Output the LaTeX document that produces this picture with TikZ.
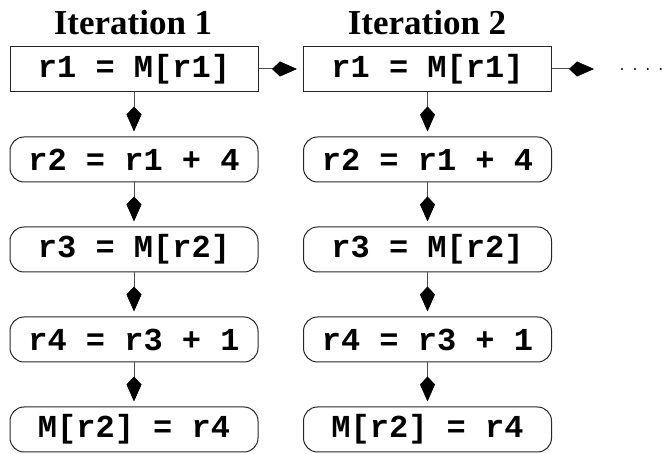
\documentclass[tikz,border=0pt]{standalone}
\usepackage{fontspec}
\setmainfont{Liberation Serif}
\setmonofont{Liberation Mono}
\usetikzlibrary{arrows.meta}
\begin{document}
\begin{tikzpicture}[x=1pt,y=-1pt,
  instr/.style={draw=black!85, line width=1pt, minimum width=248pt, minimum height=45pt, inner sep=0pt,
    font=\fontsize{32}{32}\selectfont\ttfamily\bfseries},
  roundinstr/.style={instr, rounded corners=14pt},
  title/.style={font=\fontsize{35}{35}\selectfont\bfseries, inner sep=0pt, anchor=base},
  flow/.style={draw=black!70, line width=1pt, -{Kite[length=25pt 0 0,width=15pt 0 0,inset=8pt 0 0,fill=black,color=black,line width=0.6pt]}},
  vflow/.style={flow, shorten >=5pt},
  hflow/.style={flow, shorten >=6pt}
]
\useasboundingbox (0,0) rectangle (662,454);
\node[title] (t1) at (133,35) {Iteration 1};
\node[title] (t2) at (427,35) {Iteration 2};

\node[instr] (a1) at (134,69) {r1 = M[r1]};
\node[roundinstr] (a2) at (134,159.5) {r2 = r1 + 4};
\node[roundinstr] (a3) at (134,249.5) {r3 = M[r2]};
\node[roundinstr] (a4) at (134,339.5) {r4 = r3 + 1};
\node[roundinstr] (a5) at (134,429.5) {M[r2] = r4};

\node[instr] (b1) at (427.5,69) {r1 = M[r1]};
\node[roundinstr] (b2) at (427.5,159.5) {r2 = r1 + 4};
\node[roundinstr] (b3) at (427.5,249.5) {r3 = M[r2]};
\node[roundinstr] (b4) at (427.5,339.5) {r4 = r3 + 1};
\node[roundinstr] (b5) at (427.5,429.5) {M[r2] = r4};

\draw[vflow] (a1) -- (a2);
\draw[vflow] (a2) -- (a3);
\draw[vflow] (a3) -- (a4);
\draw[vflow] (a4) -- (a5);
\draw[vflow] (b1) -- (b2);
\draw[vflow] (b2) -- (b3);
\draw[vflow] (b3) -- (b4);
\draw[vflow] (b4) -- (b5);

\draw[hflow] (a1) -- (b1);
\coordinate (next) at (594,69);
\draw[flow] (b1.east) -- (next);

\coordinate (d1) at (622,69);
\coordinate (d2) at (661,69);
\draw[line width=2.2pt, line cap=round, dash pattern=on 0pt off 12.9pt] (d1) -- (d2);
\end{tikzpicture}
\end{document}
